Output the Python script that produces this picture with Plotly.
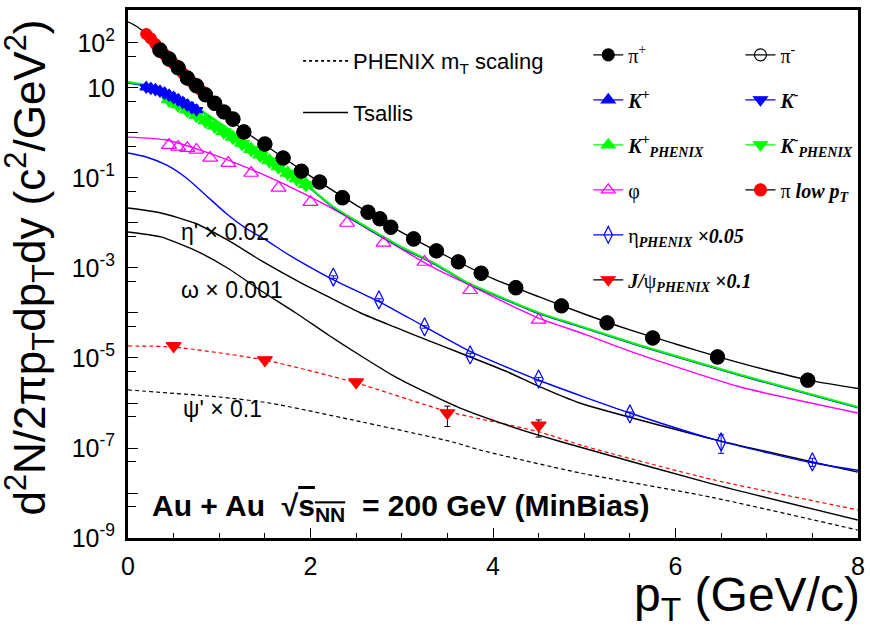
import plotly.graph_objects as go

# ---------------- data ----------------
# pions (STAR / PHENIX), pT in GeV/c
pi_pt = [0.35, 0.45, 0.55, 0.65, 0.75, 0.85, 0.95, 1.05, 1.15, 1.27, 1.5, 1.7, 1.9, 2.1,
         2.35, 2.63, 2.76, 2.88, 3.13, 3.38, 3.62, 3.87, 4.25, 4.75, 5.25, 5.75, 6.46, 7.45]
pi_plus = [70, 44, 27.8, 16.7, 11.1, 7.0, 4.6, 2.93, 2.05, 1.05, 0.57, 0.278, 0.143, 0.081,
           0.036, 0.0175, 0.0123, 0.0081, 0.0044, 0.0024, 0.00136, 7.7e-4, 3.6e-4, 1.43e-4,
           6.0e-5, 2.8e-5, 1.05e-5, 3.2e-6]
pi_minus = [68, 45, 28.5, 16.5, 11.3, 7.1, 4.5, 2.95, 2.0, 1.07, 0.56, 0.28, 0.14, 0.082,
            0.037, 0.0172, 0.0125, 0.0080, 0.0045, 0.0024, 0.00138, 7.6e-4, 3.7e-4, 1.45e-4,
            6.1e-5, 2.75e-5, 1.07e-5, 3.25e-6]

pilow_pt = [0.2, 0.25, 0.3, 0.35, 0.4, 0.45, 0.5, 0.55, 0.6, 0.65, 0.7, 0.75, 0.8]
pilow_val = [158, 126, 95, 71, 56, 44, 35, 27.5, 21.5, 16.8, 13.5, 11.0, 8.9]

# kaons STAR (low pT)
kstar_pt = [0.2, 0.25, 0.3, 0.35, 0.4, 0.45, 0.5, 0.55, 0.6, 0.65, 0.7, 0.75]
kplus_star = [10.5, 10.0, 9.4, 8.7, 7.9, 7.1, 6.3, 5.6, 4.9, 4.3, 3.8, 3.3]
kminus_star = [10.2, 9.6, 9.0, 8.3, 7.5, 6.8, 6.0, 5.3, 4.7, 4.1, 3.6, 3.2]

# kaons PHENIX
kphx_pt = [0.45, 0.55, 0.65, 0.75, 0.85, 0.95, 1.05, 1.15, 1.25, 1.35, 1.45, 1.55, 1.65,
           1.75, 1.85, 1.95]
kplus_phx = [5.6, 4.3, 3.3, 2.5, 1.9, 1.45, 1.1, 0.82, 0.6, 0.44, 0.33, 0.245, 0.18, 0.13,
             0.098, 0.073]
kminus_phx = [5.3, 4.1, 3.1, 2.4, 1.8, 1.38, 1.04, 0.78, 0.57, 0.42, 0.31, 0.235, 0.172,
              0.126, 0.094, 0.07]

# phi
phi_pt = [0.45, 0.55, 0.65, 0.75, 0.9, 1.1, 1.35, 1.65, 2.0, 2.4, 2.8, 3.25, 3.75, 4.5]
phi_val = [0.54, 0.49, 0.46, 0.42, 0.28, 0.215, 0.129, 0.06, 0.029, 0.01, 0.0036, 0.00136,
           3.2e-4, 7.0e-5]

# eta (PHENIX) x 0.05
eta_pt = [2.25, 2.75, 3.25, 3.75, 4.5, 5.5, 6.5, 7.5]
eta_val = [6.3e-4, 1.95e-4, 4.9e-5, 1.17e-5, 3.4e-6, 5.7e-7, 1.36e-7, 4.9e-8]
eta_err = [4e-5, 1.2e-5, 3e-6, 1.0e-6, 3e-7, 6e-8, 6e-8, 1.0e-8]

# J/psi (PHENIX) x 0.1
jpsi_pt = [0.5, 1.5, 2.5, 3.5, 4.5]
jpsi_val = [1.85e-5, 9.0e-6, 2.9e-6, 6.0e-7, 3.2e-7]
jpsi_err_up = [1.0e-6, 6e-7, 2e-7, 2.5e-7, 1.0e-7]
jpsi_err_dn = [1.0e-6, 6e-7, 2e-7, 3.0e-7, 1.45e-7]

# ---------------- curves (Tsallis fits / mT scaling) ----------------
pi_fit_pt = [0, 0.1, 0.2, 0.35, 0.5, 0.75, 1.0, 1.25, 1.5, 2.0, 2.5, 3.0, 3.5, 4.0, 4.5,
             5.0, 5.5, 6.0, 6.5, 7.0, 7.5, 8.0]
pi_fit = [295, 230, 158, 71, 35, 11.1, 3.6, 1.2, 0.54, 0.11, 0.025, 0.0062, 0.0018, 5.8e-4,
          2.3e-4, 9.5e-5, 4.2e-5, 2.05e-5, 1.02e-5, 5.4e-6, 3.1e-6, 2.1e-6]

k_fit_pt = [0, 0.2, 0.45, 0.7, 0.95, 1.2, 1.45, 1.7, 1.95, 2.25, 2.6, 3.0, 3.35, 3.7, 4.1,
            4.5, 5.0, 5.6, 6.7, 8.0]
kphx_fit = [13.6, 11.7, 7.5, 4.2, 2.0, 0.85, 0.36, 0.16, 0.072, 0.023, 0.0085, 0.0029,
            0.0013, 5.0e-4, 2.2e-4, 1.02e-4, 4.8e-5, 1.95e-5, 4.3e-6, 8.1e-7]
kstar_fit = [12.8, 11.0, 7.1, 4.0, 1.9, 0.81, 0.345, 0.153, 0.069, 0.022, 0.0081, 0.00277,
             0.00124, 4.8e-4, 2.1e-4, 9.7e-5, 4.6e-5, 1.87e-5, 4.1e-6, 7.8e-7]

phi_fit_pt = [0, 0.42, 0.85, 1.29, 1.73, 2.17, 2.46, 2.83, 3.3, 3.7, 4.07, 4.5, 5.0, 5.6,
              6.7, 8.0]
phi_fit = [0.81, 0.70, 0.38, 0.175, 0.07, 0.025, 0.0117, 0.0042, 0.00115, 4.6e-4,
           1.95e-4, 7.7e-5, 3.4e-5, 1.2e-5, 2.3e-6, 6.0e-7]

eta_fit_pt = [0, 0.2, 0.42, 0.64, 0.85, 1.07, 1.29, 1.51, 1.73, 1.95, 2.24, 2.75, 3.25,
              3.75, 4.5, 5.5, 6.5, 7.5, 8.0]
eta_fit = [0.36, 0.293, 0.195, 0.1, 0.042, 0.0167, 7.7e-3, 4.2e-3, 2.15e-3, 1.17e-3,
           5.6e-4, 1.8e-4, 5.0e-5, 1.41e-5, 3.2e-6, 6.0e-7, 1.4e-7, 4.7e-8, 3.2e-8]

etap_fit_pt = [0, 0.36, 0.73, 1.09, 1.45, 1.84, 2.2, 2.55, 2.92, 3.28, 3.64, 4.16, 4.51,
               4.95, 6.4, 8.0]
etap_fit = [0.0215, 0.0167, 0.01, 4.2e-3, 1.5e-3, 5.4e-4, 2.27e-4, 1.0e-4, 4.9e-5, 2.5e-5,
            1.29e-5, 4.9e-6, 2.3e-6, 1.0e-6, 1.6e-7, 2.9e-8]

omega_fit_pt = [0, 0.36, 0.73, 1.09, 1.45, 1.84, 2.2, 2.55, 2.92, 3.28, 3.64, 4.16, 4.51,
                4.95, 6.4, 8.0]
omega_fit = [6.3e-3, 4.9e-3, 2.5e-3, 1.0e-3, 3.2e-4, 1.0e-4, 3.2e-5, 1.12e-5, 3.9e-6,
             1.67e-6, 7.7e-7, 3.2e-7, 1.9e-7, 1.05e-7, 1.6e-8, 2.5e-9]

jpsi_fit_pt = [0, 0.5, 1.5, 2.5, 3.5, 4.5, 5.0, 6.4, 8.0]
jpsi_fit = [1.85e-5, 1.75e-5, 9.0e-6, 2.8e-6, 6.5e-7, 2.3e-7, 1.1e-7, 2.0e-8, 4.2e-9]

psip_fit_pt = [0, 1.0, 1.55, 2.46, 3.56, 3.85, 4.95, 6.4, 8.0]
psip_fit = [1.95e-6, 1.36e-6, 1.0e-6, 4.2e-7, 1.36e-7, 9.1e-8, 2.8e-8, 8.0e-9, 1.5e-9]

# axis ticks
y_major = [1e-9, 1e-8, 1e-7, 1e-6, 1e-5, 1e-4, 1e-3, 1e-2, 1e-1, 1, 10, 100]
y_labels = ["10<sup>-9</sup>", "", "10<sup>-7</sup>", "", "10<sup>-5</sup>", "",
            "10<sup>-3</sup>", "", "10<sup>-1</sup>", "", "10", "10<sup>2</sup>"]
y_minor = [5e-9, 5e-8, 5e-7, 5e-6, 5e-5, 5e-4, 5e-3, 5e-2, 5e-1, 5, 50]
x_major = [0, 2, 4, 6, 8]

# ---------------- styles ----------------
BLACK = "#000000"
BLUE = "#0000ff"
GREEN = "#00ff00"
MAGENTA = "#ff00ff"
RED = "#ff0000"
SANS = "Liberation Sans, Arial, sans-serif"
SERIF = "Liberation Serif, Times New Roman, serif"
DASH = "4px,3px"

fig = go.Figure()


def curve(x, y, color, dash="solid", width=1.4):
    fig.add_trace(go.Scatter(x=x, y=y, mode="lines", showlegend=False, hoverinfo="skip",
                             line=dict(color=color, width=width, dash=dash,
                                       shape="spline", smoothing=0.6)))


def points(x, y, symbol, color, size, err=None, err_up=None, err_dn=None, lw=1.2):
    kw = {}
    if err is not None:
        kw["error_y"] = dict(type="data", array=err, color=color, thickness=1, width=3)
    if err_up is not None:
        kw["error_y"] = dict(type="data", array=err_up, arrayminus=err_dn, color=BLACK,
                             thickness=1, width=3)
    fig.add_trace(go.Scatter(x=x, y=y, mode="markers", showlegend=False,
                             marker=dict(symbol=symbol, color=color, size=size,
                                         line=dict(color=color, width=lw)), **kw))


# curves
curve(psip_fit_pt, psip_fit, BLACK, dash=DASH, width=1.2)
curve(jpsi_fit_pt, jpsi_fit, RED, dash=DASH, width=1.2)
curve(omega_fit_pt, omega_fit, BLACK)
curve(etap_fit_pt, etap_fit, BLACK)
curve(eta_fit_pt, eta_fit, BLUE)
curve(phi_fit_pt, phi_fit, MAGENTA)
curve(k_fit_pt, kstar_fit, BLUE)
curve(k_fit_pt, kphx_fit, GREEN, width=2)
curve(pi_fit_pt, pi_fit, BLACK)

# data points
points(jpsi_pt, jpsi_val, "triangle-down", RED, 13, err_up=jpsi_err_up, err_dn=jpsi_err_dn)
points(eta_pt, eta_val, "diamond-tall-open", BLUE, 13, err=eta_err)
points(phi_pt, phi_val, "triangle-up-open", MAGENTA, 13)
points(kphx_pt, kplus_phx, "triangle-up", GREEN, 13)
points(kphx_pt, kminus_phx, "triangle-down", GREEN, 13)
points(kstar_pt, kplus_star, "triangle-up", BLUE, 11)
points(kstar_pt, kminus_star, "triangle-down", BLUE, 11)
points(pilow_pt, pilow_val, "circle", RED, 11)
points(pi_pt, pi_plus, "circle", BLACK, 14)
points(pi_pt, pi_minus, "circle-open", BLACK, 14, lw=1.0)


# legend-only entries
def entry(name, legend, group, symbol=None, mcolor=BLACK, lcolor=BLACK, dash="solid", size=12):
    if symbol is None:
        fig.add_trace(go.Scatter(x=[None], y=[None], mode="lines", name=name, legend=legend,
                                 legendgroup=group,
                                 line=dict(color=lcolor, width=1.6, dash=dash)))
    else:
        fig.add_trace(go.Scatter(x=[None], y=[None], mode="lines+markers", name=name,
                                 legend=legend, legendgroup=group,
                                 line=dict(color=lcolor, width=1.2),
                                 marker=dict(symbol=symbol, color=mcolor, size=size,
                                             line=dict(color=mcolor, width=1.2))))


entry("π<sup>+</sup>", "legend", "a1", "circle", BLACK, BLACK)
entry("<b><i>K<sup>+</sup></i></b>", "legend", "a2", "triangle-up", BLUE, BLUE)
entry("<b><i>K<sup>+</sup><sub>PHENIX</sub></i></b>", "legend", "a3", "triangle-up", GREEN, GREEN)
entry("φ", "legend", "a4", "triangle-up-open", MAGENTA, MAGENTA)
entry("η<sub><b><i>PHENIX</i></b></sub> <b><i>×0.05</i></b>", "legend", "a5",
      "diamond-tall-open", BLUE, BLUE)
entry("<b><i>J/</i></b>ψ<sub><b><i>PHENIX</i></b></sub> <b><i>×0.1</i></b>", "legend", "a6",
      "triangle-down", RED, BLACK)

entry("π<sup>-</sup>", "legend2", "b1", "circle-open", BLACK, BLACK)
entry("<b><i>K<sup>-</sup></i></b>", "legend2", "b2", "triangle-down", BLUE, BLUE)
entry("<b><i>K<sup>-</sup><sub>PHENIX</sub></i></b>", "legend2", "b3", "triangle-down", GREEN, GREEN)
entry("π <b><i>low p<sub>T</sub></i></b>", "legend2", "b4", "circle", RED, BLACK)

entry("PHENIX m<sub>T</sub> scaling", "legend3", "c1", None, lcolor=BLACK, dash="3px,3px")
entry("Tsallis", "legend3", "c2", None, lcolor=BLACK)

col_legend = dict(bgcolor="rgba(0,0,0,0)", borderwidth=0, traceorder="grouped",
                  tracegroupgap=16, font=dict(family=SERIF, size=20, color=BLACK),
                  itemsizing="trace", xanchor="left", yanchor="top")

fig.update_layout(
    width=870, height=631,
    margin=dict(l=128, r=12, t=10, b=93, autoexpand=False),
    paper_bgcolor="white", plot_bgcolor="white",
    showlegend=True,
    legend=dict(col_legend, x=0.6305, y=0.952),
    legend2=dict(col_legend, x=0.839, y=0.952),
    legend3=dict(bgcolor="rgba(0,0,0,0)", borderwidth=0, traceorder="grouped",
                 tracegroupgap=20, itemwidth=45,
                 font=dict(family=SANS, size=22, color=BLACK),
                 xanchor="left", yanchor="top", x=0.233, y=0.943),
    xaxis=dict(range=[0, 8], showgrid=False, zeroline=False,
               showline=True, linecolor=BLACK, linewidth=3, mirror=True,
               ticks="inside", ticklen=10, tickwidth=1, tickcolor=BLACK,
               tickvals=x_major, ticktext=[str(v) for v in x_major], ticklabelstandoff=4,
               minor=dict(dtick=0.5, ticks="inside", ticklen=5, tickcolor=BLACK, tickwidth=1),
               tickfont=dict(family=SANS, size=25, color=BLACK)),
    yaxis=dict(type="log", range=[-9, 2.733], showgrid=False, zeroline=False,
               showline=True, linecolor=BLACK, linewidth=3, mirror=True,
               ticks="inside", ticklen=10, tickwidth=1, tickcolor=BLACK,
               tickvals=y_major, ticktext=y_labels, ticklabelstandoff=5,
               minor=dict(tickvals=y_minor, ticks="inside", ticklen=8, tickcolor=BLACK,
                          tickwidth=1),
               tickfont=dict(family=SANS, size=25, color=BLACK)),
)

annotations = [
    dict(text="p<sub>T</sub> (GeV/c)", xref="paper", yref="paper", x=1.006, y=-0.113,
         xanchor="right", yanchor="middle", showarrow=False,
         font=dict(family=SANS, size=48, color=BLACK)),
    dict(text="d<sup>2</sup>N/2πp<sub>T</sub>dp<sub>T</sub>dy (c<sup>2</sup>/GeV<sup>2</sup>)",
         xref="paper", yref="paper", x=-0.135, y=0.513, textangle=-90,
         xanchor="center", yanchor="middle", showarrow=False,
         font=dict(family=SANS, size=44, color=BLACK)),
    dict(text="η' × 0.02", xref="paper", yref="paper", x=0.07, y=0.58,
         xanchor="left", yanchor="middle", showarrow=False,
         font=dict(family=SANS, size=23, color=BLACK)),
    dict(text="ω × 0.001", xref="paper", yref="paper", x=0.07, y=0.47,
         xanchor="left", yanchor="middle", showarrow=False,
         font=dict(family=SANS, size=23, color=BLACK)),
    dict(text="ψ' × 0.1", xref="paper", yref="paper", x=0.072, y=0.245,
         xanchor="left", yanchor="middle", showarrow=False,
         font=dict(family=SANS, size=23, color=BLACK)),
    dict(text="<b>Au + Au  √<span style='text-decoration:overline'>s<sub>NN</sub></span>"
              "  = 200 GeV (MinBias)</b>",
         xref="paper", yref="paper", x=0.03, y=0.057,
         xanchor="left", yanchor="middle", showarrow=False,
         font=dict(family=SANS, size=30, color=BLACK)),
]
fig.update_layout(annotations=annotations)

fig.write_html("out.html", config={"displayModeBar": False},
               post_script="document.body.style.margin='0px';document.body.style.padding='0px';")
